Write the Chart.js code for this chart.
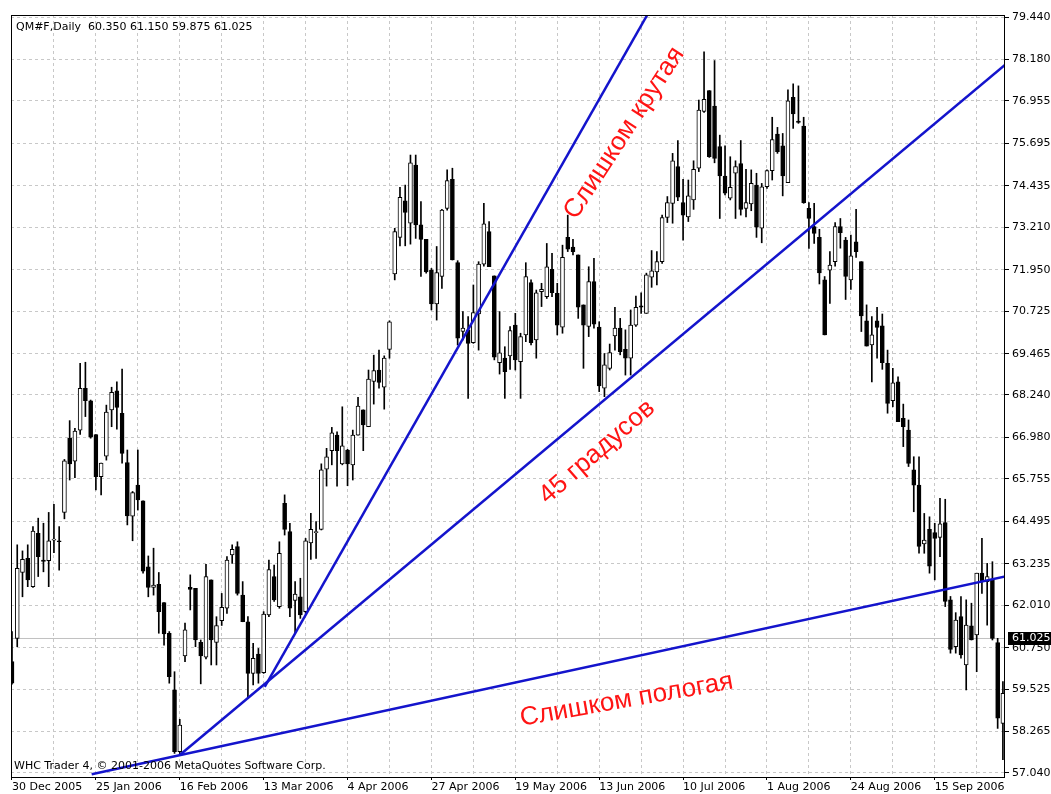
<!DOCTYPE html>
<html>
<head>
<meta charset="utf-8">
<title>QM#F Daily</title>
<script src="https://cdn.jsdelivr.net/npm/chart.js@4.4.1/dist/chart.umd.min.js"></script>
<style>
  html, body { margin: 0; padding: 0; background: #fff; }
  #wrap { width: 1051px; height: 794px; }
</style>
</head>
<body>
<div id="wrap"><canvas id="chart" width="1051" height="794"></canvas></div>
<script>
// QM#F daily bars, 30 Dec 2005 .. end of Sep 2006
var opens = [
  60.34, 61.03, 62.98, 63.40, 62.56, 64.14, 63.35, 63.33, 63.94, 63.92,
  64.76, 66.96, 66.28, 67.20, 68.44, 68.07, 67.07, 65.82, 66.43, 67.80,
  68.36, 67.70, 66.24, 64.65, 65.57, 65.10, 63.15, 62.54, 62.63, 62.09,
  61.18, 59.50, 57.67, 60.51, 62.54, 62.51, 60.91, 60.47, 62.76, 60.91,
  61.55, 61.92, 63.50, 63.75, 62.31, 61.52, 59.99, 60.56, 60.01, 61.72,
  62.86, 61.97, 65.03, 64.19, 62.15, 62.26, 61.82, 63.86, 64.16, 64.26,
  66.04, 66.59, 67.05, 66.20, 66.61, 66.17, 67.05, 67.80, 67.30, 68.64,
  68.98, 68.47, 69.59, 71.83, 72.91, 73.99, 73.33, 75.05, 73.28, 72.85,
  71.94, 70.94, 71.75, 73.77, 74.63, 72.16, 70.12, 70.17, 69.79, 70.64,
  72.12, 73.08, 71.77, 69.20, 69.33, 69.40, 70.31, 69.23, 70.02, 71.57,
  69.87, 71.30, 71.15, 71.96, 71.25, 70.25, 72.91, 72.62, 72.39, 70.91,
  70.27, 71.60, 70.25, 68.44, 69.03, 69.99, 70.22, 69.59, 69.33, 70.31,
  70.88, 70.66, 71.73, 71.89, 72.19, 73.50, 73.92, 75.01, 73.94, 73.52,
  74.02, 74.96, 76.64, 77.26, 76.80, 75.60, 74.73, 74.07, 74.81, 75.10,
  73.77, 73.90, 74.46, 73.18, 74.41, 74.89, 75.97, 75.62, 74.53, 77.06,
  76.36, 76.21, 73.77, 73.23, 72.91, 71.65, 71.94, 72.19, 73.23, 72.83,
  71.65, 72.78, 72.19, 70.44, 69.72, 70.44, 70.29, 69.18, 68.07, 68.63,
  67.55, 67.20, 66.02, 65.57, 63.83, 64.26, 64.16, 64.02, 64.46, 62.17,
  60.78, 61.67, 60.24, 61.40, 61.13, 62.96, 62.71, 62.76, 60.90, 58.51
];
var highs = [
  61.23, 63.80, 63.62, 63.80, 64.34, 64.59, 64.44, 64.76, 65.00, 64.34,
  66.33, 67.48, 67.25, 69.18, 69.21, 68.09, 67.07, 66.22, 67.94, 68.47,
  68.63, 69.01, 66.61, 65.38, 66.61, 65.10, 63.47, 63.70, 62.98, 62.09,
  61.23, 60.04, 58.63, 61.48, 62.91, 62.51, 60.98, 63.22, 62.76, 61.67,
  62.36, 63.45, 63.80, 63.89, 62.71, 61.67, 60.88, 60.73, 61.82, 63.35,
  63.20, 63.89, 65.28, 64.44, 62.71, 62.81, 63.99, 64.73, 64.49, 66.20,
  66.66, 67.28, 67.15, 67.89, 66.63, 67.20, 68.17, 67.80, 68.98, 69.42,
  69.57, 69.40, 70.44, 73.18, 74.39, 74.46, 75.35, 75.35, 73.97, 72.85,
  71.99, 72.64, 73.74, 74.91, 74.96, 72.22, 70.71, 70.56, 71.50, 72.19,
  73.92, 73.38, 71.77, 70.71, 69.67, 70.27, 70.66, 70.07, 72.16, 71.65,
  71.35, 71.55, 72.73, 72.44, 71.55, 72.68, 73.57, 72.85, 72.39, 70.91,
  72.04, 72.29, 70.41, 69.47, 69.75, 70.84, 70.51, 70.17, 70.76, 71.17,
  71.27, 71.85, 72.52, 72.49, 73.57, 74.12, 75.40, 75.78, 74.63, 74.61,
  75.18, 76.98, 78.41, 77.26, 78.15, 75.94, 75.62, 75.30, 75.18, 75.78,
  74.93, 74.91, 74.81, 74.51, 74.91, 76.47, 76.17, 75.99, 77.28, 77.46,
  77.40, 76.47, 73.94, 73.92, 73.15, 71.75, 72.49, 73.35, 73.47, 72.91,
  72.98, 73.74, 72.19, 70.91, 70.56, 70.84, 70.64, 69.57, 69.03, 68.78,
  67.97, 67.50, 66.41, 66.41, 64.73, 64.63, 64.44, 65.18, 65.15, 62.27,
  61.79, 62.27, 62.17, 62.07, 62.96, 63.99, 63.25, 63.30, 61.03, 59.75
];
var lows = [
  59.67, 60.78, 62.26, 62.56, 62.54, 62.86, 63.00, 62.56, 63.57, 63.05,
  64.57, 65.72, 65.79, 67.07, 67.60, 66.96, 65.43, 65.28, 66.31, 67.30,
  67.23, 66.22, 64.39, 63.92, 64.83, 62.96, 62.26, 62.31, 61.18, 60.83,
  59.70, 57.62, 57.57, 60.34, 61.87, 60.78, 59.68, 60.42, 60.24, 60.24,
  61.41, 61.77, 63.25, 62.31, 61.52, 59.25, 59.65, 59.70, 59.99, 61.67,
  62.12, 61.92, 64.09, 61.67, 61.20, 61.62, 61.77, 63.37, 63.40, 64.24,
  65.54, 66.17, 65.54, 66.17, 65.55, 65.72, 67.05, 66.59, 67.30, 67.97,
  68.44, 67.82, 69.33, 71.65, 72.66, 72.66, 72.71, 72.88, 71.75, 71.85,
  70.76, 70.46, 71.40, 73.72, 72.24, 69.72, 69.87, 68.14, 69.77, 69.57,
  72.06, 72.04, 69.28, 68.86, 68.14, 69.00, 68.98, 68.14, 69.82, 69.72,
  69.33, 70.86, 71.10, 71.15, 70.02, 70.07, 72.49, 72.39, 70.51, 69.03,
  69.97, 70.22, 68.34, 68.19, 68.98, 69.57, 69.43, 68.83, 68.83, 70.27,
  70.66, 70.66, 71.43, 71.50, 72.14, 73.35, 73.33, 74.00, 72.83, 73.38,
  73.74, 74.86, 76.61, 75.28, 75.12, 73.47, 74.17, 74.02, 73.47, 73.57,
  73.52, 73.70, 72.91, 72.75, 74.36, 74.61, 75.40, 74.14, 74.53, 76.14,
  76.29, 73.92, 72.58, 72.73, 71.53, 70.02, 70.95, 72.06, 72.59, 71.07,
  71.37, 72.32, 70.12, 69.69, 68.63, 69.33, 69.00, 67.70, 67.89, 67.45,
  66.71, 66.12, 64.78, 63.55, 63.55, 62.96, 62.76, 63.45, 61.97, 60.59,
  60.59, 60.44, 59.50, 60.98, 60.04, 62.36, 61.42, 60.98, 58.36, 57.43
];
var closes = [
  59.70, 63.10, 63.37, 62.76, 64.21, 63.45, 63.31, 63.92, 63.97, 63.89,
  66.29, 66.20, 67.17, 68.44, 68.07, 66.99, 65.82, 66.22, 67.73, 68.32,
  67.87, 66.51, 64.66, 65.35, 65.13, 63.02, 62.54, 62.61, 61.82, 61.16,
  59.89, 57.67, 58.46, 61.28, 62.48, 60.98, 60.51, 62.86, 60.98, 61.41,
  61.95, 63.35, 63.67, 62.36, 61.52, 59.99, 60.44, 59.99, 61.75, 63.07,
  62.17, 63.55, 64.26, 61.92, 62.34, 61.72, 63.92, 64.26, 64.18, 66.02,
  66.41, 67.12, 66.59, 66.73, 66.20, 67.05, 67.91, 67.35, 68.71, 68.96,
  68.61, 69.33, 70.41, 73.08, 74.10, 73.65, 75.12, 73.28, 72.85, 71.89,
  70.94, 71.87, 73.72, 74.59, 72.24, 69.92, 70.22, 69.77, 70.68, 72.12,
  73.31, 72.04, 69.36, 69.49, 68.93, 70.15, 69.28, 69.97, 71.75, 69.79,
  71.27, 71.37, 72.04, 71.27, 70.31, 72.32, 72.56, 72.49, 70.84, 70.31,
  71.60, 70.34, 68.51, 69.13, 69.50, 70.22, 69.52, 69.33, 70.31, 70.84,
  70.84, 71.80, 71.92, 72.19, 73.50, 73.94, 75.18, 74.10, 73.57, 74.14,
  74.93, 76.68, 77.00, 75.30, 75.25, 74.73, 74.22, 74.39, 75.01, 73.74,
  73.94, 74.51, 73.21, 74.41, 74.89, 75.81, 75.45, 74.73, 76.96, 76.57,
  76.32, 73.94, 73.47, 73.03, 71.86, 70.02, 72.09, 73.23, 73.05, 71.75,
  72.36, 72.49, 70.58, 69.69, 70.02, 70.24, 69.20, 67.99, 68.60, 67.45,
  67.30, 66.21, 65.57, 63.75, 63.94, 63.17, 63.99, 64.42, 62.12, 60.70,
  61.57, 60.54, 61.42, 60.98, 62.96, 62.71, 62.86, 61.03, 58.66, 59.40
];

// time axis labels (bar index -> date)
var tickBars = [0, 16, 32, 48, 64, 80, 96, 112, 128, 144, 160, 176];
var tickLabels = ['30 Dec 2005', '25 Jan 2006', '16 Feb 2006', '13 Mar 2006', '4 Apr 2006', '27 Apr 2006',
                  '19 May 2006', '13 Jun 2006', '10 Jul 2006', '1 Aug 2006', '24 Aug 2006', '15 Sep 2006'];
// price axis labels
var priceTicks = [57.040, 58.265, 59.525, 60.750, 62.010, 63.235, 64.495, 65.755, 66.980, 68.240,
                  69.465, 70.725, 71.950, 73.210, 74.435, 75.695, 76.955, 78.180, 79.440];
var lastPrice = 61.025;
var headerText = 'QM#F,Daily  60.350 61.150 59.875 61.025';
var footerText = 'WHC Trader 4, \u00a9 2001-2006 MetaQuotes Software Corp.';

// trend lines: two points each (bar index, price)
var steepLine = [{ x: 48.2, y: 59.59 }, { x: 125, y: 80.55 }];
var midLine = [{ x: 32, y: 57.57 }, { x: 190, y: 78.10 }];
var flatLine = [{ x: 15.2, y: 57.00 }, { x: 190, y: 62.88 }];

// red captions anchored at (bar index, price)
var notes = [
  { text: 'Слишком крутая', x: 116.8, y: 76.0, angle: -57 },
  { text: '45 градусов', x: 111.6, y: 66.55, angle: -41 },
  { text: 'Слишком пологая', x: 117.2, y: 59.2, angle: -10 }
];

var FONT = 'DejaVu Sans';
Chart.defaults.font.family = FONT;
Chart.defaults.font.size = 11;
Chart.defaults.color = '#000';

var bodies = opens.map(function (o, i) { return { x: i, y: [o, closes[i]] }; });
var wicks = highs.map(function (h, i) { return { x: i, y: [lows[i], h] }; });
var bodyFill = opens.map(function (o, i) { return closes[i] >= o ? '#ffffff' : '#000000'; });

var gridBars = [];
for (var b = 0; b <= 188; b += 8) gridBars.push(b);

var mt4Decor = {
  id: 'mt4Decor',
  afterDatasetsDraw: function (chart) {
    var c = chart.ctx, xs = chart.scales.x, ys = chart.scales.y, a = chart.chartArea;
    c.save();
    c.beginPath();
    c.rect(a.left, a.top, a.right - a.left, a.bottom - a.top);
    c.clip();
    c.fillStyle = '#ff1414';
    c.font = '26px "Liberation Sans", Arial, sans-serif';
    c.textAlign = 'center';
    c.textBaseline = 'middle';
    notes.forEach(function (n) {
      c.save();
      c.translate(xs.getPixelForValue(n.x), ys.getPixelForValue(n.y));
      c.rotate(n.angle * Math.PI / 180);
      c.fillText(n.text, 0, 0);
      c.restore();
    });
    c.restore();
  },
  afterDraw: function (chart) {
    var c = chart.ctx, ys = chart.scales.y, a = chart.chartArea;
    c.save();
    // frame
    c.strokeStyle = '#000';
    c.lineWidth = 1;
    c.strokeRect(a.left + 0.5, a.top + 0.5, a.right - a.left - 1, a.bottom - a.top);
    // header / footer
    c.fillStyle = '#000';
    c.font = '11px "' + FONT + '"';
    c.textAlign = 'left';
    c.textBaseline = 'middle';
    c.fillText(headerText, a.left + 5, a.top + 12);
    c.fillText(footerText, a.left + 3, a.bottom - 11);
    // current price tag
    var py = Math.round(ys.getPixelForValue(lastPrice));
    c.fillStyle = '#000';
    c.fillRect(a.right + 3, py - 6, chart.width - a.right - 3, 13);
    c.fillStyle = '#fff';
    c.fillText(lastPrice.toFixed(3), a.right + 7, py + 0.5);
    c.restore();
  }
};

new Chart(document.getElementById('chart'), {
  type: 'bar',
  data: {
    datasets: [
      { type: 'line', data: [{ x: -1, y: lastPrice }, { x: 191, y: lastPrice }],
        borderColor: '#c0c0c0', borderWidth: 1, pointRadius: 0, order: 5 },
      { data: wicks, backgroundColor: '#000', barThickness: 1, grouped: false, order: 4 },
      { data: bodies, backgroundColor: bodyFill, borderColor: '#000', borderWidth: 1,
        borderSkipped: false, barThickness: 4, minBarLength: 1, grouped: false, order: 3 },
      { type: 'line', data: flatLine, borderColor: '#1414cc', borderWidth: 2.5, pointRadius: 0, order: 1 },
      { type: 'line', data: midLine, borderColor: '#1414cc', borderWidth: 2.5, pointRadius: 0, order: 1 },
      { type: 'line', data: steepLine, borderColor: '#1414cc', borderWidth: 2.5, pointRadius: 0, order: 1 }
    ]
  },
  options: {
    responsive: false,
    animation: false,
    devicePixelRatio: 1,
    layout: { padding: { top: 15, left: 11, right: 0, bottom: 0 } },
    plugins: { legend: { display: false }, tooltip: { enabled: false } },
    scales: {
      x: {
        type: 'linear', min: -0.19, max: 189.4, offset: false,
        afterBuildTicks: function (s) { s.ticks = gridBars.map(function (v) { return { value: v }; }); },
        afterFit: function (s) { s.height = 17; s.paddingLeft = 0; s.paddingRight = 0; },
        ticks: {
          autoSkip: false, maxRotation: 0, minRotation: 0, align: 'start', padding: 1,
          callback: function (v) { var k = tickBars.indexOf(v); return k < 0 ? '' : tickLabels[k]; }
        },
        grid: {
          offset: false, color: '#c8c8c8', lineWidth: 1, tickLength: 3, tickBorderDash: [],
          tickColor: function (ctx) { return ctx.tick && tickBars.indexOf(ctx.tick.value) >= 0 ? '#000' : 'rgba(0,0,0,0)'; }
        },
        border: { display: false, dash: [3, 3] }
      },
      y: {
        type: 'linear', position: 'right', min: 56.92, max: 79.50,
        afterBuildTicks: function (s) { s.ticks = priceTicks.map(function (v) { return { value: v }; }); },
        afterFit: function (s) { s.width = 46; s.paddingTop = 0; s.paddingBottom = 0; },
        ticks: { autoSkip: false, padding: 3, crossAlign: 'near',
          callback: function (v) { return Number(v).toFixed(3); } },
        grid: { color: '#c8c8c8', lineWidth: 1, tickLength: 4, tickColor: '#000', tickBorderDash: [] },
        border: { display: false, dash: [3, 3] }
      }
    }
  },
  plugins: [mt4Decor]
});
</script>
</body>
</html>
